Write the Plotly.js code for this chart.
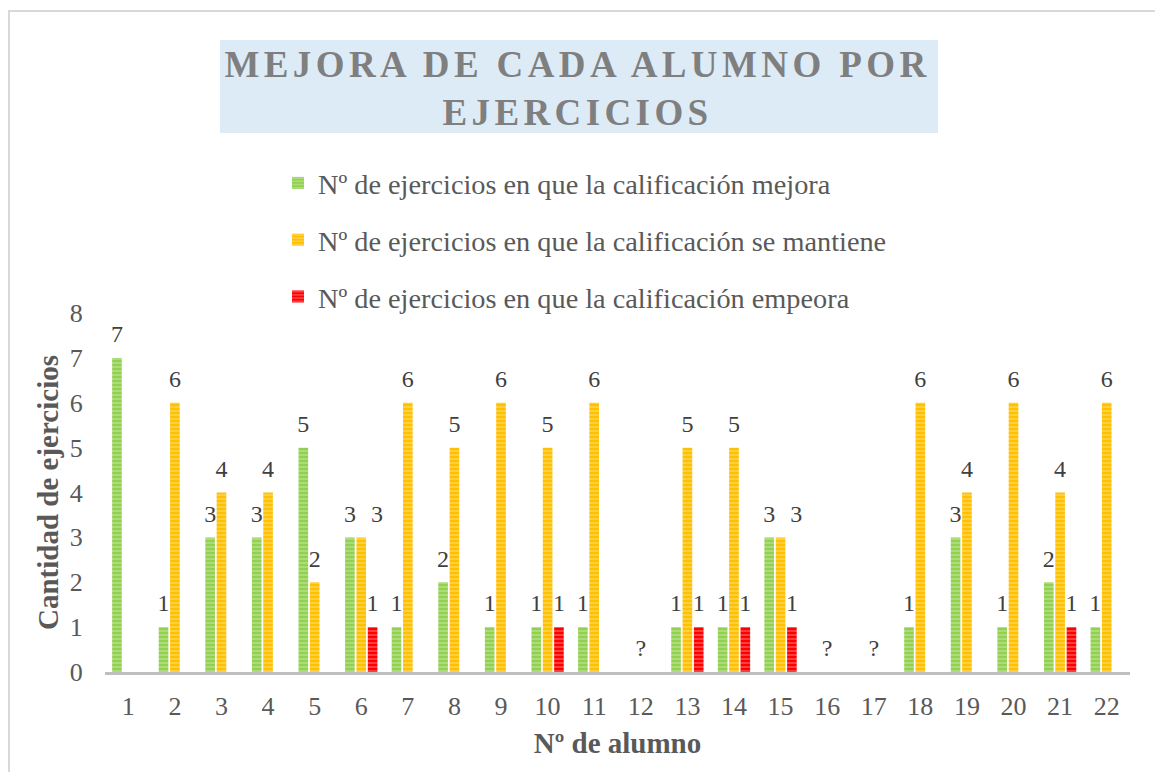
<!DOCTYPE html>
<html>
<head>
<meta charset="utf-8">
<script src="https://cdn.plot.ly/plotly-3.0.1.min.js"></script>
<style>
  html, body { margin: 0; padding: 0; background: #ffffff; overflow: hidden; }
  #frame { position: absolute; left: 8px; top: 10px; width: 2000px; height: 2000px;
           border-left: 2px solid #D9D9D9; border-top: 2px solid #D9D9D9; }
  #chart { position: absolute; left: 0; top: 0; width: 1155px; height: 772px; }
  .gtitle { letter-spacing: 4.4px; }
</style>
</head>
<body>
<div id="frame"></div>
<div id="chart"></div>
<script>
// ---- data ----
const alumnos = ['1','2','3','4','5','6','7','8','9','10','11','12','13','14','15','16','17','18','19','20','21','22'];
const mejora    = [7, 1, 3, 3, 5, 3, 1, 2, 1, 1, 1, null, 1, 1, 3, null, null, 1, 3, 1, 2, 1];
const mantiene  = [0, 6, 4, 4, 2, 3, 6, 5, 6, 5, 6, null, 5, 5, 3, null, null, 6, 4, 6, 4, 6];
const empeora   = [0, 0, 0, 0, 0, 1, 0, 0, 0, 1, 0, null, 1, 1, 1, null, null, 0, 0, 0, 1, 0];
const seriesNames = [
  'Nº de ejercicios en que la calificación mejora',
  'Nº de ejercicios en que la calificación se mantiene',
  'Nº de ejercicios en que la calificación empeora'
];
const missingLabel = '?';

// ---- styles ----
const colors = ['#92D050', '#FFC000', '#FF0000'];
const stripeColors = ['#BEE396', '#FFD966', '#FF6666'];
const serif = 'Liberation Serif, Times New Roman, serif';
const seriesData = [mejora, mantiene, empeora];

const traces = [];
seriesData.forEach((vals, i) => {
  traces.push({
    type: 'bar',
    name: seriesNames[i],
    x: alumnos,
    y: vals,
    offsetgroup: 'g' + i,
    legendgroup: 'g' + i,
    marker: {
      color: colors[i],
      line: { width: 0 },
      pattern: { shape: '-', size: 4, solidity: 0.3, fgcolor: stripeColors[i], bgcolor: colors[i] }
    },
    hoverinfo: 'x+y'
  });
});
// data labels (grouped scatter text so offsets follow the bars)
seriesData.forEach((vals, i) => {
  const txt = vals.map(v => (v === null ? (i === 1 ? missingLabel : '') : (v > 0 ? String(v) : '')));
  const yy = vals.map(v => (v === null ? 0 : v));
  const pos = vals.map((v, k) => (i === 1 && v !== null && v > 0 && v === mejora[k]) ? 'top right' : 'top center');
  traces.push({
    type: 'scatter',
    mode: 'markers+text',
    x: alumnos,
    y: yy,
    text: txt,
    textposition: pos,
    textfont: { family: serif, size: 24, color: '#404040' },
    marker: { size: 14, color: 'rgba(0,0,0,0)' },
    offsetgroup: 'g' + i,
    showlegend: false,
    hoverinfo: 'skip',
    cliponaxis: false
  });
});

const layout = {
  width: 1155,
  height: 772,
  paper_bgcolor: 'rgba(0,0,0,0)',
  plot_bgcolor: 'rgba(0,0,0,0)',
  margin: { l: 105, r: 25, t: 313, b: 100 },
  barmode: 'group',
  bargap: 0.27,
  bargroupgap: 0.15,
  scattermode: 'group',
  scattergap: 0.27,
  title: {
    text: 'MEJORA DE CADA ALUMNO POR<br>EJERCICIOS',
    font: { family: serif, size: 37, color: '#7F7F7F', weight: 'bold' },
    x: 0.5, xref: 'container', xanchor: 'center',
    y: 1 - 77 / 772, yref: 'container', yanchor: 'top'
  },
  shapes: [{
    type: 'rect', xref: 'paper', yref: 'paper', layer: 'below',
    x0: (220 - 105) / 1025, x1: (938 - 105) / 1025,
    y0: (672 - 133) / 359, y1: (672 - 40) / 359,
    fillcolor: '#DDEBF7', line: { width: 0 }
  }],
  legend: {
    x: (278 - 105) / 1025, xanchor: 'left',
    y: (672 - 158) / 359, yanchor: 'top',
    font: { family: serif, size: 28.3, color: '#595959' },
    traceorder: 'grouped',
    tracegroupgap: 17,
    itemwidth: 30,
    bgcolor: 'rgba(0,0,0,0)'
  },
  xaxis: {
    type: 'category',
    showgrid: false,
    zeroline: false,
    showline: true,
    linecolor: '#BFBFBF',
    linewidth: 3,
    ticks: 'outside',
    ticklen: 9,
    tickcolor: 'rgba(0,0,0,0)',
    tickfont: { family: serif, size: 26, color: '#595959' },
    title: { text: 'Nº de alumno', font: { family: serif, size: 29, color: '#595959', weight: 'bold' }, standoff: 13 },
    automargin: false
  },
  yaxis: {
    range: [0, 8],
    dtick: 1,
    showgrid: false,
    zeroline: false,
    showline: false,
    ticks: 'outside',
    ticklen: 16,
    tickcolor: 'rgba(0,0,0,0)',
    tickfont: { family: serif, size: 26, color: '#595959' },
    title: { text: 'Cantidad de ejercicios', font: { family: serif, size: 29, color: '#595959', weight: 'bold' }, standoff: 2 },
    automargin: false
  },
  showlegend: true
};

Plotly.newPlot('chart', traces, layout, { displayModeBar: false, staticPlot: true });
</script>
</body>
</html>
